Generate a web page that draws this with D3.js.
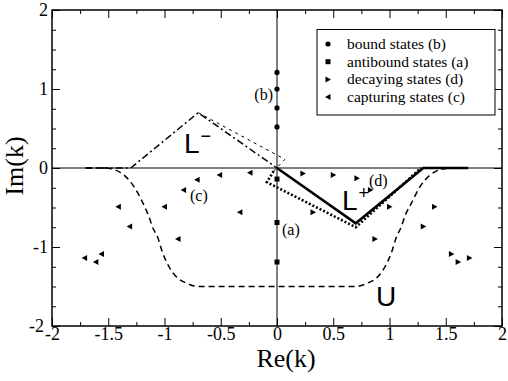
<!DOCTYPE html>
<html><head><meta charset="utf-8">
<script src="https://cdn.jsdelivr.net/npm/d3@7"></script>
<style>body{margin:0;background:#fff}svg{display:block}</style>
</head><body>
<svg id="c" width="508" height="381"></svg>
<script>
// ---- data ----
const xMajorTicks = [-2,-1.5,-1,-0.5,0,0.5,1,1.5,2];
const xTickLabels = ["-2","-1.5","-1","-0.5","0","0.5","1","1.5","2"];
const xMinorTicks = [-1.75,-1.25,-0.75,-0.25,0.25,0.75,1.25,1.75];
const yMajorTicks = [-2,-1,0,1,2];
const yTickLabels = ["-2","-1","0","1","2"];
const yMinorTicks = [-1.75,-1.5,-1.25,-0.75,-0.5,-0.25,0.25,0.5,0.75,1.25,1.5,1.75];

const boundRe = [0,0,0,0];
const boundIm = [1.21,1.0,0.76,0.52];
const antiboundRe = [0,0,0];
const antiboundIm = [-0.14,-0.69,-1.19];
const decayRe = [0.23,0.50,0.71,0.83,0.32,1.0,1.40,1.30,0.87,1.55,1.61,1.71];
const decayIm = [-0.07,-0.09,-0.13,-0.28,-0.56,-0.49,-0.49,-0.74,-0.90,-1.09,-1.19,-1.14];
const captRe = [-0.24,-0.51,-0.71,-0.83,-0.33,-1.0,-1.41,-1.31,-0.88,-1.56,-1.61,-1.71];
const captIm = [-0.06,-0.09,-0.15,-0.28,-0.56,-0.49,-0.49,-0.74,-0.90,-1.09,-1.19,-1.14];

const lPlusRe = [0,0.7,1.3,1.7];
const lPlusIm = [0,-0.7,0,0];
const lMinusRe = [-1.7,-1.3,-0.7,0];
const lMinusIm = [0,0,0.7,0];
const thinDashRe = [-0.7,0.07,-0.03];
const thinDashIm = [0.7,0.11,-0.04];
const dottedRe = [-0.03,-0.09,0.7,1.28];
const dottedIm = [-0.04,-0.18,-0.75,0];
const uRe = [-1.7,-1.55,-1.45,-1.36,-1.27,-1.20,-1.14,-1.10,-1.06,-1.02,-0.96,-0.90,-0.80,-0.70,0,0.70,0.80,0.90,0.96,1.02,1.06,1.10,1.14,1.20,1.27,1.36,1.45,1.55,1.7];
const uIm = [0,0,-0.02,-0.09,-0.24,-0.42,-0.61,-0.77,-0.88,-1.06,-1.25,-1.37,-1.46,-1.5,-1.5,-1.5,-1.46,-1.37,-1.25,-1.06,-0.88,-0.76,-0.60,-0.43,-0.24,-0.09,-0.02,0,0];

const legendLabels = ["bound states (b)","antibound states (a)","decaying states (d)","capturing states (c)"];

// ---- drawing ----
const svg = d3.select("#c");
const L=52,R=502,T=10,B=326;
const x = d3.scaleLinear().domain([-2,2]).range([L,R]);
const y = d3.scaleLinear().domain([-2,2]).range([B,T]);
const serif = "'Liberation Serif','Times New Roman',serif";
const sans = "'Liberation Sans',Arial,sans-serif";

function styleAxis(g){ g.select(".domain").remove(); g.selectAll("line").attr("stroke","#000").attr("stroke-width",1); }

// axes: major & minor inward ticks
svg.append("g").attr("transform",`translate(0,${B})`)
  .call(d3.axisBottom(x).tickValues(xMajorTicks).tickSize(-8).tickPadding(1).tickFormat((d,i)=>xTickLabels[i]))
  .call(styleAxis)
  .call(g=>g.selectAll("text").attr("font-family",serif).attr("font-size",18).attr("fill","#000").attr("dy","0.71em"));
svg.append("g").attr("transform",`translate(0,${B})`).call(d3.axisBottom(x).tickValues(xMinorTicks).tickSize(-4).tickFormat("")).call(styleAxis);
svg.append("g").attr("transform",`translate(0,${T})`).call(d3.axisTop(x).tickValues(xMajorTicks).tickSize(-8).tickFormat("")).call(styleAxis);
svg.append("g").attr("transform",`translate(0,${T})`).call(d3.axisTop(x).tickValues(xMinorTicks).tickSize(-4).tickFormat("")).call(styleAxis);

svg.append("g").attr("transform",`translate(${L},0)`)
  .call(d3.axisLeft(y).tickValues(yMajorTicks).tickSize(-8).tickPadding(4).tickFormat((d,i)=>yTickLabels[i]))
  .call(styleAxis)
  .call(g=>g.selectAll("text").attr("font-family",serif).attr("font-size",18).attr("fill","#000")
    .attr("x",d=>d===-2?-8:-4));
svg.append("g").attr("transform",`translate(${L},0)`).call(d3.axisLeft(y).tickValues(yMinorTicks).tickSize(-4).tickFormat("")).call(styleAxis);
svg.append("g").attr("transform",`translate(${R},0)`).call(d3.axisRight(y).tickValues(yMajorTicks).tickSize(-8).tickFormat("")).call(styleAxis);
svg.append("g").attr("transform",`translate(${R},0)`).call(d3.axisRight(y).tickValues(yMinorTicks).tickSize(-4).tickFormat("")).call(styleAxis);

// frame
svg.append("rect").attr("x",L).attr("y",T).attr("width",R-L).attr("height",B-T)
  .attr("fill","none").attr("stroke","#000").attr("stroke-width",1.5);
// zero lines
svg.append("line").attr("x1",x(0)).attr("x2",x(0)).attr("y1",T).attr("y2",B).attr("stroke","#000").attr("stroke-width",1);
svg.append("line").attr("x1",L).attr("x2",R).attr("y1",y(0)).attr("y2",y(0)).attr("stroke","#000").attr("stroke-width",1);

// curves
const zip=(a,b)=>a.map((v,i)=>[v,b[i]]);
const line = d3.line().x(d=>x(d[0])).y(d=>y(d[1]));
const smooth = d3.line().x(d=>x(d[0])).y(d=>y(d[1])).curve(d3.curveMonotoneX);
svg.append("path").attr("d",smooth(zip(uRe,uIm))).attr("fill","none").attr("stroke","#000").attr("stroke-width",1.5).attr("stroke-dasharray","6,4");
svg.append("path").attr("d",line(zip(lMinusRe,lMinusIm))).attr("fill","none").attr("stroke","#000").attr("stroke-width",1.5).attr("stroke-dasharray","7,3,2,3");
svg.append("path").attr("d",line(zip(thinDashRe,thinDashIm))).attr("fill","none").attr("stroke","#000").attr("stroke-width",1).attr("stroke-dasharray","3,4");
svg.append("path").attr("d",line(zip(dottedRe,dottedIm))).attr("fill","none").attr("stroke","#000").attr("stroke-width",2.6).attr("stroke-dasharray","2,2");
svg.append("path").attr("d",line(zip(lPlusRe,lPlusIm))).attr("fill","none").attr("stroke","#000").attr("stroke-width",2.6);

// markers
const triR="M-2.5,-3L3,0L-2.5,3Z", triL="M2.5,-3L-3,0L2.5,3Z";
svg.append("g").selectAll("circle").data(zip(boundRe,boundIm)).join("circle")
  .attr("cx",d=>x(d[0])).attr("cy",d=>y(d[1])).attr("r",2.6).attr("fill","#000");
svg.append("g").selectAll("rect").data(zip(antiboundRe,antiboundIm)).join("rect")
  .attr("x",d=>x(d[0])-2.5).attr("y",d=>y(d[1])-2.5).attr("width",5).attr("height",5).attr("fill","#000");
svg.append("g").selectAll("path").data(zip(decayRe,decayIm)).join("path")
  .attr("d",triR).attr("transform",d=>`translate(${x(d[0])},${y(d[1])})`).attr("fill","#000");
svg.append("g").selectAll("path").data(zip(captRe,captIm)).join("path")
  .attr("d",triL).attr("transform",d=>`translate(${x(d[0])},${y(d[1])})`).attr("fill","#000");

// point labels
const lab=(tx,ty,t,anchor)=>svg.append("text").attr("x",tx).attr("y",ty).attr("text-anchor",anchor||"start")
  .attr("font-family",serif).attr("font-size",16).text(t);
lab(273,100,"(b)","end");
lab(282,235,"(a)");
lab(190,201,"(c)");
lab(369,186,"(d)");

// contour labels
const big=(tx,ty,t,sup)=>{
  const tt=svg.append("text").attr("x",tx).attr("y",ty).attr("font-family",sans).attr("font-size",28).text(t);
  if(sup) tt.append("tspan").attr("font-size",18).attr("dy",-11).attr("dx",1).text(sup);
};
big(184,153,"L","\u2212");
big(342,210,"L","+");
big(376,306,"U");

// axis titles
svg.append("text").attr("x",286).attr("y",367).attr("text-anchor","middle")
  .attr("font-family",serif).attr("font-size",26).text("Re(k)");
svg.append("text").attr("transform",`translate(23,166) rotate(-90)`).attr("text-anchor","middle")
  .attr("font-family",serif).attr("font-size",26).text("Im(k)");

// legend
const lg=svg.append("g");
lg.append("rect").attr("x",317).attr("y",29.5).attr("width",178).attr("height",85.5).attr("fill","#fff").attr("stroke","#000").attr("stroke-width",1);
const rowY=[44,61.7,79.4,97.1];
legendLabels.forEach((t,i)=>{
  const cy=rowY[i], cx=328;
  if(i===0) lg.append("circle").attr("cx",cx).attr("cy",cy).attr("r",2.6);
  if(i===1) lg.append("rect").attr("x",cx-2.5).attr("y",cy-2.5).attr("width",5).attr("height",5);
  if(i===2) lg.append("path").attr("d",triR).attr("transform",`translate(${cx},${cy})`);
  if(i===3) lg.append("path").attr("d",triL).attr("transform",`translate(${cx},${cy})`);
  lg.append("text").attr("x",347).attr("y",cy+5).attr("font-family",serif).attr("font-size",15.5).text(t);
});
</script>
</body></html>
